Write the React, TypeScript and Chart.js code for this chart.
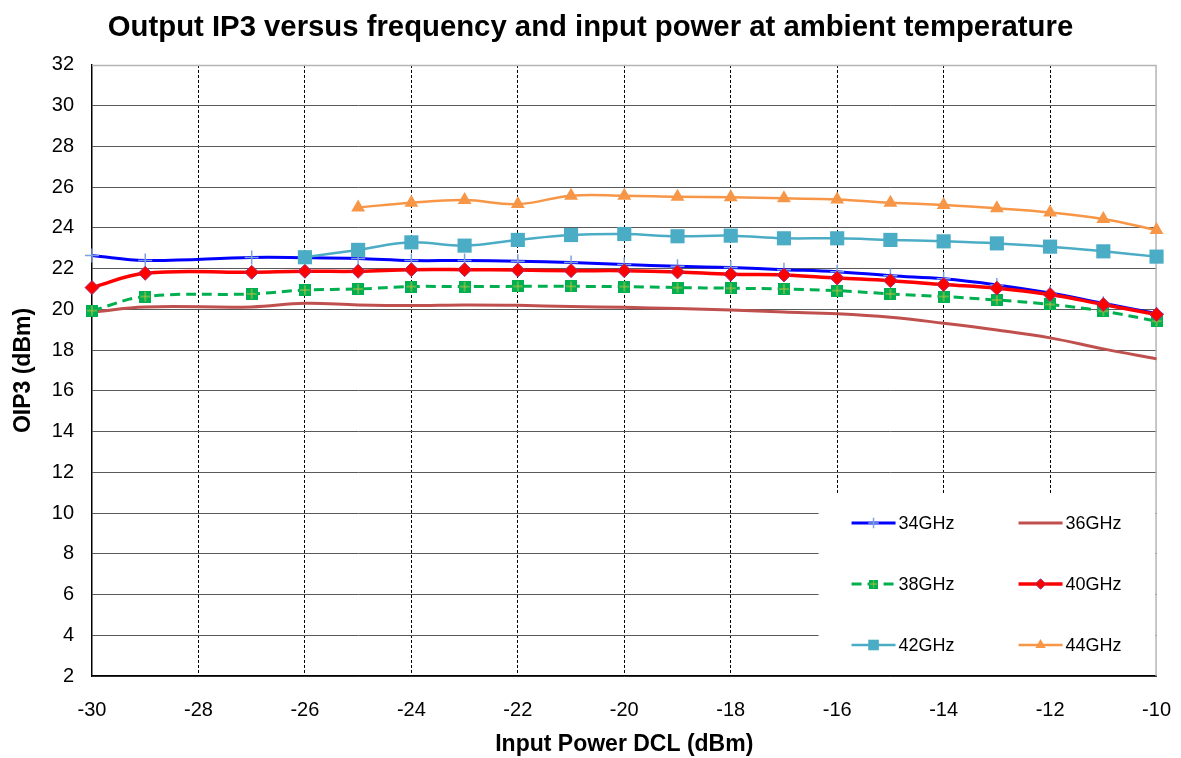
import React, { useEffect, useRef } from "react";
import { Chart, registerables } from "chart.js";

Chart.register(...registerables);

// ---- data ----
const inputPower = [-30, -29, -27, -26, -25, -24, -23, -22, -21, -20, -19, -18, -17, -16, -15, -14, -13, -12, -11, -10];
const seriesNames = ["34GHz", "36GHz", "38GHz", "40GHz", "42GHz", "44GHz"];
const oip3_34 = [22.64, 22.40, 22.55, 22.54, 22.50, 22.40, 22.40, 22.36, 22.30, 22.20, 22.12, 22.05, 21.95, 21.85, 21.65, 21.50, 21.20, 20.80, 20.30, 19.80];
const oip3_36 = [19.86, 20.12, 20.12, 20.30, 20.22, 20.19, 20.22, 20.20, 20.14, 20.10, 20.04, 19.97, 19.87, 19.78, 19.61, 19.32, 18.99, 18.60, 18.06, 17.57];
const oip3_38 = [19.94, 20.63, 20.76, 20.95, 21.00, 21.12, 21.12, 21.13, 21.13, 21.12, 21.07, 21.04, 21.00, 20.92, 20.76, 20.63, 20.46, 20.24, 19.91, 19.42];
const oip3_40 = [21.07, 21.77, 21.82, 21.87, 21.87, 21.95, 21.95, 21.93, 21.90, 21.90, 21.84, 21.72, 21.69, 21.54, 21.41, 21.22, 21.04, 20.73, 20.24, 19.75];
const oip3_42 = [null, null, null, 22.56, 22.92, 23.29, 23.13, 23.41, 23.65, 23.70, 23.59, 23.62, 23.49, 23.49, 23.41, 23.34, 23.24, 23.08, 22.85, 22.59];
const oip3_44 = [null, null, null, null, 25.00, 25.24, 25.37, 25.17, 25.58, 25.58, 25.53, 25.50, 25.45, 25.40, 25.24, 25.12, 24.96, 24.76, 24.44, 23.90];
const xMin = -30, xMax = -10, xStep = 2;
const yMin = 2, yMax = 32, yStep = 2;

const FONT = "'Liberation Sans', Arial, Helvetica, sans-serif";

function toPoints(vals: (number | null)[]) {
  const pts: { x: number; y: number }[] = [];
  vals.forEach((v, i) => {
    if (v !== null) pts.push({ x: inputPower[i], y: v });
  });
  return pts;
}

function makeGreenMarker(size: number) {
  const c = document.createElement("canvas");
  c.width = size;
  c.height = size;
  const g = c.getContext("2d")!;
  g.fillStyle = "#00B050";
  g.fillRect(0, 0, size, size);
  g.strokeStyle = "#C8C040";
  g.lineWidth = 1;
  g.beginPath();
  g.moveTo(size / 2, 1);
  g.lineTo(size / 2, size - 1);
  g.moveTo(1, size / 2);
  g.lineTo(size - 1, size / 2);
  g.stroke();
  return c;
}

function drawMarker(ctx: CanvasRenderingContext2D, ds: any, x: number, y: number, scale: number) {
  const style = ds.pointStyle;
  const r = (ds.pointRadius || 0) * scale;
  ctx.save();
  if (style && typeof style === "object") {
    const w = style.width * scale, h = style.height * scale;
    ctx.drawImage(style, x - w / 2, y - h / 2, w, h);
    ctx.restore();
    return;
  }
  if (r <= 0) { ctx.restore(); return; }
  ctx.fillStyle = ds.pointBackgroundColor;
  ctx.strokeStyle = ds.pointBorderColor;
  ctx.lineWidth = ds.pointBorderWidth;
  ctx.beginPath();
  if (style === "cross") {
    ctx.moveTo(x, y - r); ctx.lineTo(x, y + r);
    ctx.moveTo(x - r, y); ctx.lineTo(x + r, y);
    ctx.stroke();
  } else if (style === "rect") {
    const s = r * Math.SQRT1_2;
    ctx.rect(x - s, y - s, 2 * s, 2 * s);
    ctx.fill();
    if (ds.pointBorderWidth) ctx.stroke();
  } else if (style === "rectRot") {
    ctx.moveTo(x, y - r); ctx.lineTo(x + r, y); ctx.lineTo(x, y + r); ctx.lineTo(x - r, y); ctx.closePath();
    ctx.fill();
    if (ds.pointBorderWidth) ctx.stroke();
  } else if (style === "triangle") {
    const a = Math.PI * 2 / 3;
    ctx.moveTo(x, y - r);
    ctx.lineTo(x + Math.sin(a) * r, y - Math.cos(a) * r);
    ctx.lineTo(x + Math.sin(2 * a) * r, y - Math.cos(2 * a) * r);
    ctx.closePath();
    ctx.fill();
    if (ds.pointBorderWidth) ctx.stroke();
  }
  ctx.restore();
}

const frameAndLegendPlugin = {
  id: "frameAndLegend",
  beforeDatasetsDraw(chart: any) {
    const { ctx, chartArea } = chart;
    const { left, right, top } = chartArea;
    ctx.save();
    ctx.strokeStyle = "#b4b4b4";
    ctx.lineWidth = 1.5;
    ctx.beginPath();
    ctx.moveTo(left, top + 0.5);
    ctx.lineTo(right, top + 0.5);
    ctx.moveTo(right - 0.5, top);
    ctx.lineTo(right - 0.5, chartArea.bottom);
    ctx.stroke();
    ctx.restore();
  },
  afterDatasetsDraw(chart: any) {
    const { ctx, chartArea } = chart;
    const { right, bottom } = chartArea;
    const boxLeft = right - 338;
    const boxTop = bottom - 183;
    ctx.save();
    ctx.fillStyle = "#ffffff";
    ctx.fillRect(boxLeft, boxTop, right - boxLeft - 1.5, bottom - boxTop - 1);
    const colX = [boxLeft + 33, boxLeft + 200];
    const rowY = [boxTop + 30, boxTop + 91, boxTop + 152];
    chart.data.datasets.forEach((ds: any, i: number) => {
      const col = i % 2;
      const row = Math.floor(i / 2);
      const x0 = colX[col];
      const x1 = x0 + 44;
      const y = rowY[row];
      ctx.save();
      ctx.strokeStyle = ds.borderColor;
      ctx.lineWidth = ds.borderWidth;
      ctx.setLineDash(ds.borderDash || []);
      ctx.beginPath();
      ctx.moveTo(x0, y);
      ctx.lineTo(x1, y);
      ctx.stroke();
      ctx.restore();
      drawMarker(ctx, ds, (x0 + x1) / 2, y, 0.75);
      ctx.save();
      ctx.fillStyle = "#000";
      ctx.font = `18px ${FONT}`;
      ctx.textAlign = "left";
      ctx.textBaseline = "middle";
      ctx.fillText(ds.label, x1 + 3, y + 1);
      ctx.restore();
    });
    ctx.restore();
  },
};

export default function App() {
  const ref = useRef<HTMLCanvasElement | null>(null);

  useEffect(() => {
    if (!ref.current) return;
    const greenMarker = makeGreenMarker(12);
    const chart = new Chart(ref.current, {
      type: "line",
      data: {
        datasets: [
          {
            label: seriesNames[0],
            data: toPoints(oip3_34),
            borderColor: "#0000FF",
            borderWidth: 3,
            pointStyle: "cross",
            pointRadius: 7,
            pointBorderColor: "#7DA0E0",
            pointBackgroundColor: "#7DA0E0",
            pointBorderWidth: 1.5,
            tension: 0.4,
            clip: false,
            order: 5,
          } as any,
          {
            label: seriesNames[1],
            data: toPoints(oip3_36),
            borderColor: "#C0504D",
            borderWidth: 3,
            pointRadius: 0,
            tension: 0.4,
            clip: false,
            order: 4,
          },
          {
            label: seriesNames[2],
            data: toPoints(oip3_38),
            borderColor: "#00B050",
            borderWidth: 3,
            borderDash: [10, 6],
            pointStyle: greenMarker,
            pointRadius: 6,
            pointBorderWidth: 0,
            tension: 0.4,
            clip: false,
            order: 3,
          },
          {
            label: seriesNames[3],
            data: toPoints(oip3_40),
            borderColor: "#FF0000",
            borderWidth: 3.5,
            pointStyle: "rectRot",
            pointRadius: 7,
            pointBackgroundColor: "#FF0000",
            pointBorderColor: "#A0307A",
            pointBorderWidth: 1,
            tension: 0.4,
            clip: false,
            order: 2,
          },
          {
            label: seriesNames[4],
            data: toPoints(oip3_42),
            borderColor: "#4BACC6",
            borderWidth: 2.5,
            pointStyle: "rect",
            pointRadius: 10,
            pointBackgroundColor: "#4BACC6",
            pointBorderColor: "#4BACC6",
            pointBorderWidth: 0,
            tension: 0.4,
            clip: false,
            order: 1,
          },
          {
            label: seriesNames[5],
            data: toPoints(oip3_44),
            borderColor: "#F79646",
            borderWidth: 2.5,
            pointStyle: "triangle",
            pointRadius: 8,
            pointBackgroundColor: "#F79646",
            pointBorderColor: "#F79646",
            pointBorderWidth: 0,
            tension: 0.4,
            clip: false,
            order: 0,
          },
        ],
      },
      options: {
        responsive: false,
        animation: false,
        devicePixelRatio: 1,
        layout: { padding: { left: 12, right: 12, top: 0, bottom: 0 } },
        plugins: {
          legend: { display: false },
          tooltip: { enabled: false },
          title: {
            display: true,
            text: "Output IP3 versus frequency and input power at ambient temperature",
            color: "#000",
            font: { family: FONT, size: 29.3, weight: "bold", lineHeight: 1.2 },
            padding: { top: 10, bottom: 19.8 },
          },
        },
        scales: {
          x: {
            type: "linear",
            min: xMin,
            max: xMax,
            ticks: {
              stepSize: xStep,
              color: "#000",
              font: { family: FONT, size: 20 },
              padding: 10,
              maxRotation: 0,
            },
            grid: {
              drawTicks: true,
              tickLength: 12,
              tickColor: "rgba(0,0,0,0)",
              color: (c: any) => (c.tick && (c.tick.value === xMin || c.tick.value === xMax) ? "rgba(0,0,0,0)" : "#000"),
              lineWidth: 1,
            },
            border: { display: true, color: "#000", width: 1.5, dash: [3, 2] },
            title: {
              display: true,
              text: "Input Power DCL (dBm)",
              color: "#000",
              font: { family: FONT, size: 23, weight: "bold" },
              padding: { top: 0, bottom: 0 },
            },
            afterFit: (s: any) => { s.height = 82; },
          },
          y: {
            type: "linear",
            min: yMin,
            max: yMax,
            ticks: {
              stepSize: yStep,
              color: "#000",
              font: { family: FONT, size: 20 },
              padding: 18,
            },
            grid: {
              drawTicks: false,
              color: (c: any) => (c.tick && c.tick.value === yMax ? "rgba(0,0,0,0)" : "#5a5a5a"),
              lineWidth: 1,
            },
            border: { display: true, color: "#000", width: 1.5 },
            title: {
              display: true,
              text: "OIP3 (dBm)",
              color: "#000",
              font: { family: FONT, size: 23, weight: "bold", lineHeight: 1.0 },
              padding: { top: 0, bottom: 0 },
            },
            afterFit: (s: any) => { s.width = 80; },
          },
        },
      },
      plugins: [frameAndLegendPlugin],
    } as any);
    return () => chart.destroy();
  }, []);

  return (
    <div style={{ position: "fixed", left: 0, top: 0, width: 1181, height: 758, background: "#fff" }}>
      <canvas ref={ref} width={1181} height={758} style={{ display: "block", width: 1181, height: 758 }} />
    </div>
  );
}
